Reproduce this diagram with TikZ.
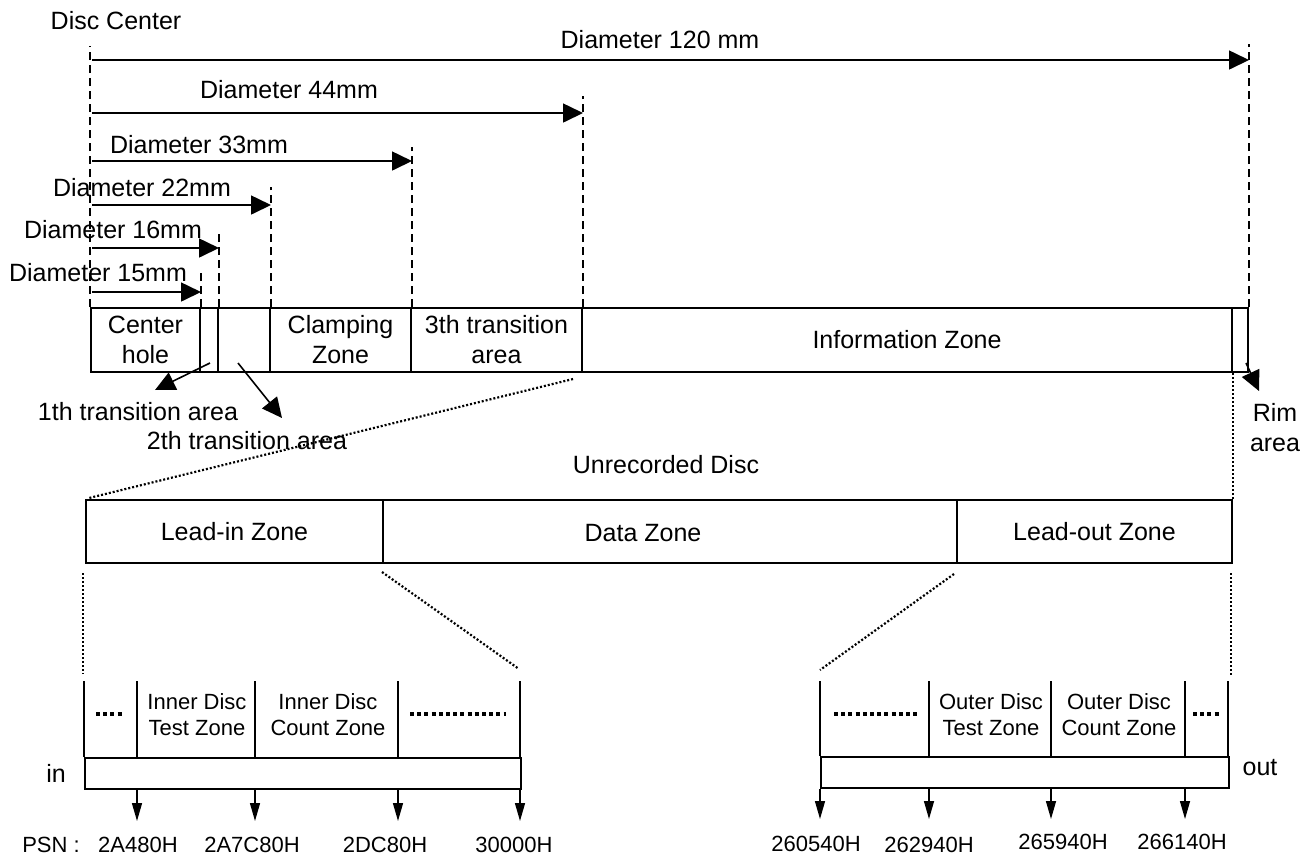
\documentclass[tikz,border=0pt]{standalone}
\usepackage{fontspec}
\setmainfont{Liberation Sans}
\usepackage{tikz}
\usetikzlibrary{arrows.meta,positioning,calc}
\newcommand\zonefont{\fontsize{12.5}{15}\selectfont}
\newcommand\psnfont{\fontsize{11}{13}\selectfont}

\begin{document}
\begin{tikzpicture}[x=0.5pt,y=-0.5pt,
  cell/.style={draw, line width=1pt, minimum height=32pt, inner sep=0pt,
               align=center, font=\zonefont},
  lbl/.style={align=center, font=\zonefont, inner sep=1pt},
  sub/.style={align=center, font=\psnfont, inner sep=1pt},
  guide/.style={line width=0.6pt, dash pattern=on 4pt off 2.5pt},
  zoom/.style={line width=1.1pt, dash pattern=on 1pt off 1pt},
  wall/.style={line width=0.8pt},
  dotrow/.style={line width=1.8pt, dash pattern=on 2pt off 1.6pt},
  arr/.style={-{Triangle[length=10pt,width=9.5pt]}, line width=0.8pt},
  parr/.style={-{Triangle[length=9pt,width=5pt]}, line width=0.7pt}
]
\path[fill=white, use as bounding box] (0,0) rectangle (1311,859);

\node[cell, minimum width=54.5pt] (hole)  at (145.5,340) {Center\\hole};
\node[cell, minimum width=9pt]    (tr1)   at (209,340)   {};
\node[cell, minimum width=26pt]   (tr2)   at (244,340)   {};
\node[cell, minimum width=70.5pt] (clamp) at (340.5,340) {Clamping\\Zone};
\node[cell, minimum width=85.5pt] (tr3)   at (496.5,340) {3th transition\\area};
\node[cell, minimum width=325pt]  (info)  at (907,340)   {Information Zone};
\node[cell, minimum width=8pt]    (rim)   at (1240,340)  {};

\node[lbl] (center) at (116,21)  {Disc Center};
\node[lbl] (d120)   at (660,40)  {Diameter 120 mm};
\node[lbl] (d44)    at (289,90)  {Diameter 44mm};
\node[lbl] (d33)    at (199,145) {Diameter 33mm};
\node[lbl] (d22)    at (142,188) {Diameter 22mm};
\node[lbl] (d16)    at (113,230) {Diameter 16mm};
\node[lbl] (d15)    at (98,273)  {Diameter 15mm};

\draw[guide] (hole.north west)  -- ++(0,-261);
\draw[guide] (rim.north east)   -- ++(0,-263);
\draw[guide] (tr3.north east)   -- ++(0,-211);
\draw[guide] (clamp.north east) -- ++(0,-160);
\draw[guide] (tr2.north east)   -- ++(0,-120);
\draw[guide] (tr1.north east)   -- ++(0,-73);
\draw[guide] (hole.north east)  -- ++(0,-35);

\coordinate (a120) at (92,60);
\coordinate (a44)  at (92,113);
\coordinate (a33)  at (92,161);
\coordinate (a22)  at (92,205);
\coordinate (a16)  at (92,248);
\coordinate (a15)  at (92,292);
\draw[arr] (a120) -- (a120 -| rim.east);
\draw[arr] (a44)  -- (a44 -| tr3.east);
\draw[arr] (a33)  -- (a33 -| clamp.east);
\draw[arr] (a22)  -- (a22 -| tr2.east);
\draw[arr] (a16)  -- (a16 -| tr1.east);
\draw[arr] (a15)  -- (a15 -| hole.east);

\node[lbl] (tr1lbl) at (138,412)  {1th transition area};
\node[lbl] (tr2lbl) at (247,441)  {2th transition area};
\node[lbl] (rimlbl) at (1275,428) {Rim\\area};
\coordinate (tip1)   at (155,390);
\coordinate (tip2)   at (282,418);
\coordinate (tiprim) at (1259,391);
\draw[arr] ([shift={(1,-10)}]tr1.south) -- (tip1);
\draw[arr] ([shift={(-6,-10)}]tr2.south) -- (tip2);
\draw[arr] ([shift={(-3,-10)}]rim.south east) -- (tiprim);

\node[lbl] (unrec) at (666,465) {Unrecorded Disc};
\node[cell, minimum width=148.5pt, minimum height=31.5pt] (leadin)  at (234.5,531.5)  {Lead-in Zone};
\node[cell, minimum width=287pt,   minimum height=31.5pt] (data)    at (670,531.5)    {};
\node[lbl] (datatxt) at (643,533) {Data Zone};
\node[cell, minimum width=137.5pt, minimum height=31.5pt] (leadout) at (1094.5,531.5) {Lead-out Zone};

\draw[zoom] ([shift={(-10,6)}]tr3.south east) -- ([shift={(4,-1)}]leadin.north west);
\draw[zoom] (info.south east) -- (leadout.north east);

\node[cell, minimum width=218pt, minimum height=15.5pt] (inbox)  at (303,773.5)  {};
\node[cell, minimum width=204pt, minimum height=15.5pt] (outbox) at (1025,772.5) {};
\node[lbl] (inlbl)  at (56,773)   {in};
\node[lbl] (outlbl) at (1260,768) {out};

\draw[zoom] ([shift={(-2,9)}]leadin.south west)   -- ([shift={(-1,-83)}]inbox.north west);
\draw[zoom] ([shift={(0,8)}]data.south west)      -- ([shift={(-3,-88)}]inbox.north east);
\draw[zoom] ([shift={(-4,10)}]data.south east)    -- ([shift={(0,-86)}]outbox.north west);
\draw[zoom] ([shift={(-2,9)}]leadout.south east)  -- ([shift={(1,-80)}]outbox.north east);

\foreach \dx in {0,53,171,314,436}
  \draw[wall] ([shift={(\dx,0)}]inbox.north west) -- ++(0,-76);
\foreach \dx in {0,109,231,365,408}
  \draw[wall] ([shift={(\dx,0)}]outbox.north west) -- ++(0,-75);
\foreach \dx in {53,171,314,436}
  \draw[parr] ([shift={(\dx,0)}]inbox.south west) -- ++(0,31);
\foreach \dx in {0,109,231,365}
  \draw[parr] ([shift={(\dx,0)}]outbox.south west) -- ++(0,30);

\draw[dotrow] (96,714)   -- (124,714);
\draw[dotrow] (410,714)  -- (506,714);
\draw[dotrow] (834,714)  -- (918,714);
\draw[dotrow] (1193,714) -- (1221,714);

\node[sub] (idt) at (197,715)  {Inner Disc\\Test Zone};
\node[sub] (idc) at (328,715)  {Inner Disc\\Count Zone};
\node[sub] (odt) at (991,715)  {Outer Disc\\Test Zone};
\node[sub] (odc) at (1119,715) {Outer Disc\\Count Zone};

\node[sub] (psn) at (51,845)   {PSN :};
\node[sub] (p1)  at (138,845)  {2A480H};
\node[sub] (p2)  at (252,845)  {2A7C80H};
\node[sub] (p3)  at (385,845)  {2DC80H};
\node[sub] (p4)  at (514,845)  {30000H};
\node[sub] (p5)  at (816,844)  {260540H};
\node[sub] (p6)  at (929,845)  {262940H};
\node[sub] (p7)  at (1063,842) {265940H};
\node[sub] (p8)  at (1182,842) {266140H};
\end{tikzpicture}
\end{document}
